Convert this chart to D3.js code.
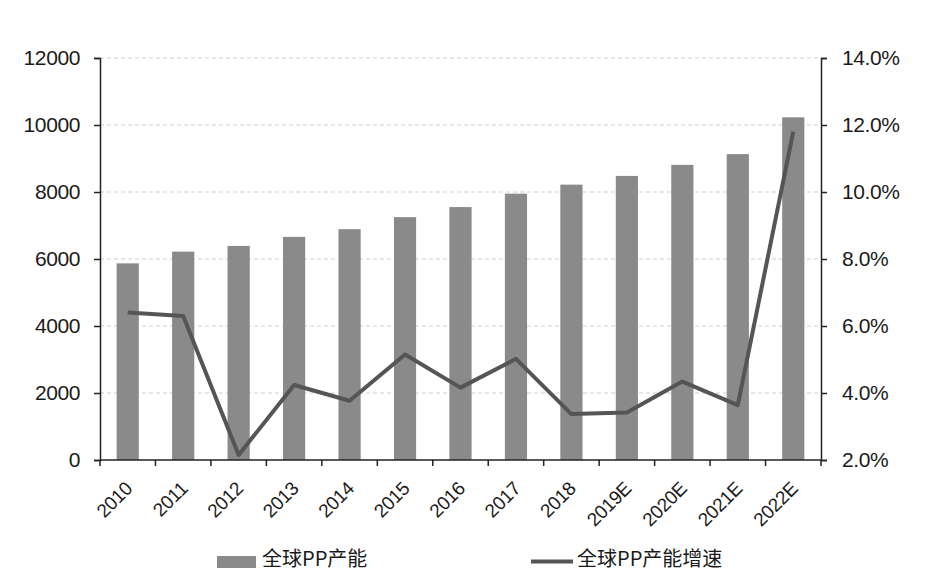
<!DOCTYPE html>
<html>
<head>
<meta charset="utf-8">
<script src="https://cdn.jsdelivr.net/npm/d3@7"></script>
<style>
  html, body { margin: 0; padding: 0; background: #ffffff; }
  svg { display: block; font-family: "Liberation Sans", Arial, sans-serif; }
</style>
</head>
<body>
<svg id="chart" width="943" height="580"></svg>
<script>
// ---- data ----
const years = ["2010","2011","2012","2013","2014","2015","2016","2017","2018","2019E","2020E","2021E","2022E"];
const capacity = [5870, 6220, 6390, 6660, 6890, 7250, 7550, 7950, 8220, 8480, 8810, 9130, 10230];
const growth = [6.40, 6.30, 2.15, 4.24, 3.77, 5.15, 4.16, 5.02, 3.37, 3.42, 4.34, 3.64, 11.80];
const leftTicks = [0, 2000, 4000, 6000, 8000, 10000, 12000];
const rightTicks = [2, 4, 6, 8, 10, 12, 14];
const legendLabels = ["全球PP产能", "全球PP产能增速"];

// ---- layout ----
const svg = d3.select("#chart");
const L = 100, R = 821, T = 58, B = 460;
const barColor = "#8a8a8a", lineColor = "#555555";

const xBand = d3.scaleBand().domain(years).range([L, R]).paddingInner(0.6).paddingOuter(0.3);
const xStep = d3.scaleBand().domain(years).range([L, R]).padding(0);
const yL = d3.scaleLinear().domain([0, 12000]).range([B, T]);
const yR = d3.scaleLinear().domain([2, 14]).range([B, T]);

// gridlines
svg.append("g").selectAll("line")
  .data(leftTicks.filter(d => d > 0))
  .join("line")
  .attr("x1", L).attr("x2", R)
  .attr("y1", d => yL(d)).attr("y2", d => yL(d))
  .attr("stroke", "#cfcfcf").attr("stroke-width", 1)
  .attr("stroke-dasharray", "4,3");

// bars
svg.append("g").selectAll("rect")
  .data(years)
  .join("rect")
  .attr("x", d => xBand(d))
  .attr("width", xBand.bandwidth())
  .attr("y", (d, i) => yL(capacity[i]))
  .attr("height", (d, i) => B - yL(capacity[i]))
  .attr("fill", barColor);

// line
const line = d3.line()
  .x((d, i) => xBand(years[i]) + xBand.bandwidth() / 2)
  .y(d => yR(d));
svg.append("path")
  .datum(growth)
  .attr("d", line)
  .attr("fill", "none")
  .attr("stroke", lineColor)
  .attr("stroke-width", 4)
  .attr("stroke-linejoin", "round");

// left axis
const leftAxis = svg.append("g")
  .attr("transform", `translate(${L},0)`)
  .call(d3.axisLeft(yL).tickValues(leftTicks).tickFormat(d3.format("d")).tickSize(6).tickPadding(14));
// right axis
const rightAxis = svg.append("g")
  .attr("transform", `translate(${R},0)`)
  .call(d3.axisRight(yR).tickValues(rightTicks).tickFormat(d => d.toFixed(1) + "%").tickSize(6).tickPadding(15));
[leftAxis, rightAxis].forEach(g => {
  g.attr("font-family", null);
  g.select(".domain").attr("stroke", "#222").attr("stroke-width", 1.5);
  g.selectAll(".tick line").attr("stroke", "#222").attr("stroke-width", 1.5);
  g.selectAll(".tick text").attr("fill", "#1a1a1a").attr("font-size", 21).attr("letter-spacing", -0.4);
});

// bottom axis
const bottom = svg.append("g");
bottom.append("line")
  .attr("x1", L).attr("x2", R).attr("y1", B).attr("y2", B)
  .attr("stroke", "#222").attr("stroke-width", 1.5);
const boundaries = years.map(d => xStep(d)).concat([R]);
bottom.selectAll("line.tk")
  .data(boundaries)
  .join("line")
  .attr("class", "tk")
  .attr("x1", d => d).attr("x2", d => d)
  .attr("y1", B).attr("y2", B + 6)
  .attr("stroke", "#222").attr("stroke-width", 1.5);
bottom.selectAll("text")
  .data(years)
  .join("text")
  .attr("transform", d => `translate(${xStep(d) + xStep.bandwidth() / 2 + 1},${B + 25}) rotate(-45)`)
  .attr("text-anchor", "end")
  .attr("dy", "0.35em")
  .attr("font-size", 19)
  .attr("letter-spacing", -0.3)
  .attr("fill", "#1a1a1a")
  .text(d => d);

// legend
const lg = svg.append("g").attr("font-family", "'Noto Sans CJK SC', 'Noto Sans', sans-serif");
lg.append("rect").attr("x", 217).attr("y", 556).attr("width", 39).attr("height", 12).attr("fill", barColor);
lg.append("text").attr("x", 262).attr("y", 566).attr("font-size", 20).attr("fill", "#1a1a1a").text(legendLabels[0]);
lg.append("line").attr("x1", 531).attr("x2", 573).attr("y1", 561.5).attr("y2", 561.5)
  .attr("stroke", lineColor).attr("stroke-width", 4);
lg.append("text").attr("x", 577).attr("y", 566).attr("font-size", 20).attr("fill", "#1a1a1a").text(legendLabels[1]);
</script>
</body>
</html>
